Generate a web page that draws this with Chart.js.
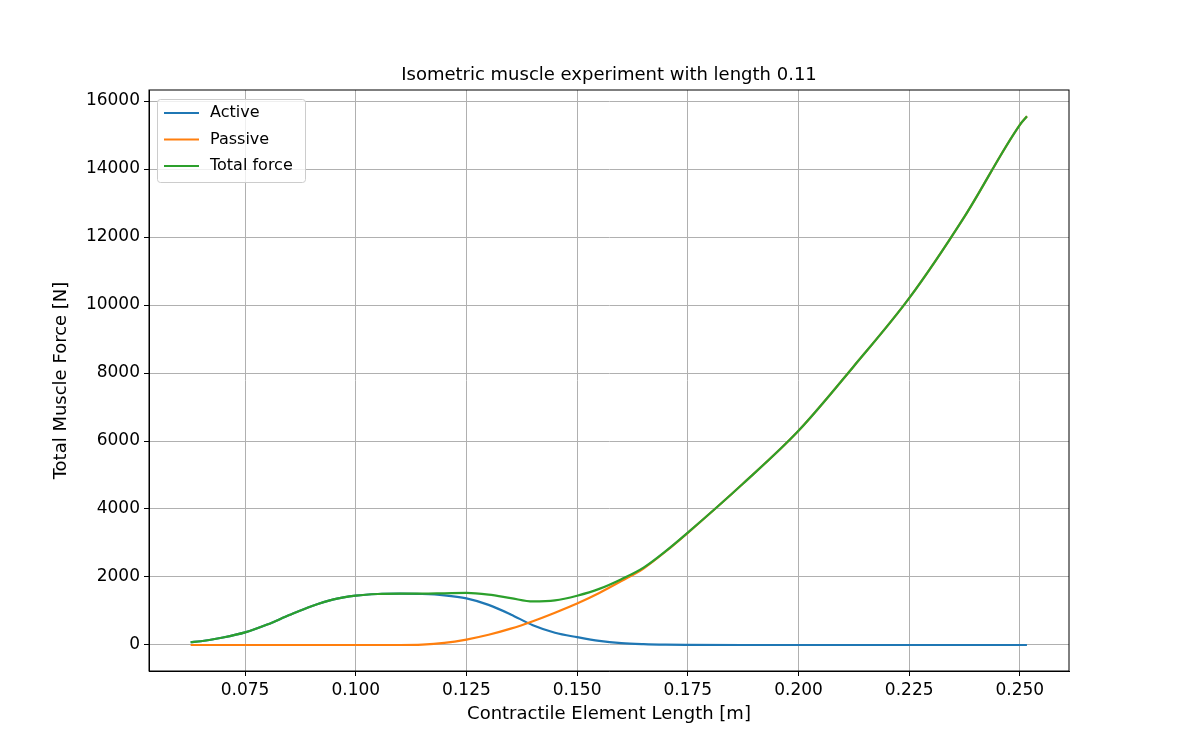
<!DOCTYPE html>
<html>
<head>
<meta charset="utf-8">
<script src="https://cdn.jsdelivr.net/npm/chart.js@4"></script>
<style>
  body { margin: 0; background: #fff; }
  #wrap { width: 1188px; height: 754px; }
</style>
</head>
<body>
<div id="wrap"><canvas id="c" width="1188" height="754"></canvas></div>
<script>
// Contractile element length [m]
const lengths = [0.0627, 0.065, 0.07, 0.075, 0.08, 0.085, 0.09, 0.095, 0.1, 0.105, 0.11, 0.115, 0.12, 0.125, 0.13, 0.135, 0.14, 0.145, 0.15, 0.155, 0.16, 0.165, 0.17, 0.175, 0.1875, 0.2, 0.2125, 0.225, 0.2375, 0.25, 0.2516];
const activeForce = [80, 110, 220, 370, 600, 880, 1140, 1340, 1450, 1500, 1510, 1500, 1460, 1370, 1180, 900, 580, 360, 230, 120, 55, 25, 10, 5, 0, 0, 0, 0, 0, 0, 0];
const passiveForce = [0, 0, 0, 0, 0, 0, 0, 0, 0, 0, 0, 10, 60, 160, 300, 480, 700, 950, 1220, 1530, 1880, 2250, 2750, 3300, 4750, 6300, 8200, 10200, 12600, 15300, 15550];
const totalForce = [80, 110, 220, 370, 600, 880, 1140, 1340, 1450, 1500, 1510, 1510, 1520, 1530, 1480, 1380, 1280, 1310, 1450, 1650, 1935, 2275, 2760, 3305, 4750, 6300, 8200, 10200, 12600, 15300, 15550];
const xTicks = [0.075, 0.1, 0.125, 0.15, 0.175, 0.2, 0.225, 0.25];
const yTicks = [0, 2000, 4000, 6000, 8000, 10000, 12000, 14000, 16000];

const FONT = "'DejaVu Sans', sans-serif";
const series = [
  { label: "Active", data: activeForce, color: "#1f77b4", order: 3 },
  { label: "Passive", data: passiveForce, color: "#ff7f0e", order: 2 },
  { label: "Total force", data: totalForce, color: "#2ca02c", order: 1 }
];

// matplotlib-like legend box in the upper left
const legendBox = {
  id: "legendBox",
  afterDraw(chart) {
    const { ctx, chartArea } = chart;
    const x = chartArea.left + 8, y = chartArea.top + 9;
    ctx.save();
    ctx.fillStyle = "rgba(255,255,255,0.8)";
    ctx.strokeStyle = "#cccccc";
    ctx.lineWidth = 1;
    ctx.beginPath();
    ctx.roundRect(x + 0.5, y + 0.5, 148, 83, 3);
    ctx.fill(); ctx.stroke();
    ctx.font = "16px " + FONT;
    ctx.textBaseline = "middle";
    series.forEach((s, i) => {
      const ly = y + 14 + i * 26.5;
      ctx.strokeStyle = s.color;
      ctx.lineWidth = 2.2;
      ctx.beginPath(); ctx.moveTo(x + 7, ly); ctx.lineTo(x + 42, ly); ctx.stroke();
      ctx.fillStyle = "#000";
      ctx.fillText(s.label, x + 53, ly);
    });
    ctx.restore();
  }
};

// frame, title and axis titles placed like matplotlib
const decorations = {
  id: "decorations",
  afterDraw(chart) {
    const { ctx, chartArea: a } = chart;
    ctx.save();
    ctx.strokeStyle = "#000"; ctx.lineWidth = 1;
    ctx.strokeRect(a.left, a.top, a.right - a.left, a.bottom - a.top);
    ctx.fillStyle = "#000";
    ctx.textAlign = "center";
    ctx.textBaseline = "middle";
    const cx = (a.left + a.right) / 2;
    ctx.font = "18px " + FONT;
    ctx.fillText("Isometric muscle experiment with length 0.11", cx, 75);
    ctx.fillText("Contractile Element Length [m]", cx, 714);
    ctx.translate(61, (a.top + a.bottom) / 2);
    ctx.rotate(-Math.PI / 2);
    ctx.fillText("Total Muscle Force [N]", 0, 0);
    ctx.restore();
  }
};

new Chart(document.getElementById("c"), {
  type: "line",
  data: {
    labels: lengths,
    datasets: series.map(s => ({
      label: s.label,
      data: lengths.map((x, i) => ({ x, y: s.data[i] })),
      borderColor: s.color,
      backgroundColor: s.color,
      borderWidth: 2.2,
      pointRadius: 0,
      order: s.order,
      cubicInterpolationMode: "monotone",
      fill: false
    }))
  },
  options: {
    responsive: false,
    animation: false,
    layout: { padding: { top: 90, right: 119, left: 0, bottom: 0 } },
    plugins: {
      legend: { display: false },
      tooltip: { enabled: false },
      title: { display: false }
    },
    scales: {
      x: {
        type: "linear",
        min: 0.0533, max: 0.2611,
        afterBuildTicks: s => { s.ticks = xTicks.map(v => ({ value: v })); },
        afterFit: s => { s.height = 83; },
        grid: { color: "#b0b0b0", lineWidth: 1, tickLength: 5, tickColor: "#000" },
        border: { color: "#000", width: 1 },
        ticks: { color: "#000", font: { family: FONT, size: 17 }, maxRotation: 0, padding: 4,
          callback: v => v.toFixed(3) }
      },
      y: {
        min: -765, max: 16324,
        afterBuildTicks: s => { s.ticks = yTicks.map(v => ({ value: v })); },
        afterFit: s => { s.width = 149; },
        grid: { color: "#b0b0b0", lineWidth: 1, tickLength: 5, tickColor: "#000" },
        border: { color: "#000", width: 1 },
        ticks: { color: "#000", font: { family: FONT, size: 17 }, padding: 4,
          callback: v => String(v) }
      }
    }
  },
  plugins: [legendBox, decorations]
});
</script>
</body>
</html>
